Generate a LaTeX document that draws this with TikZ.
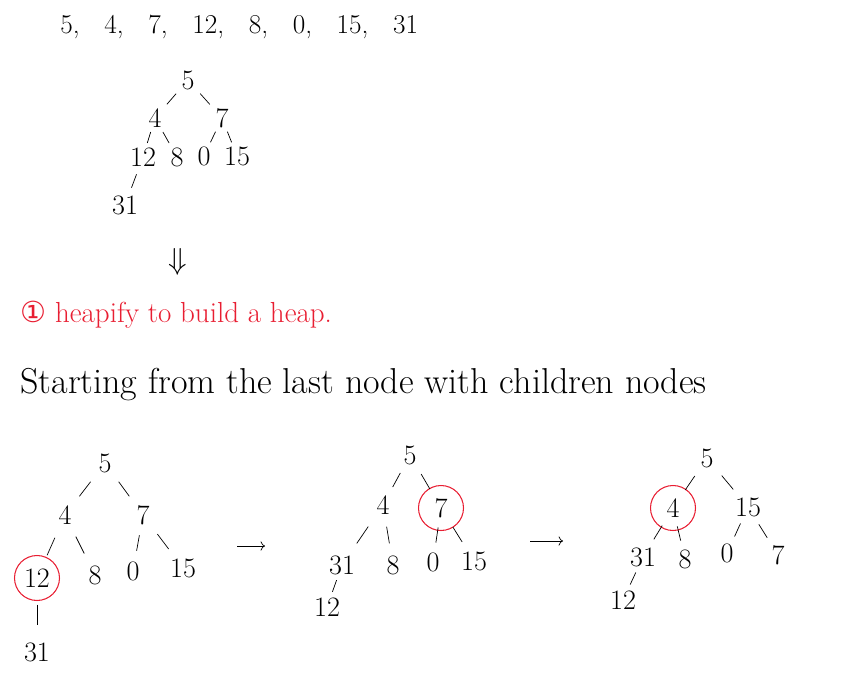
\documentclass[tikz,border=0pt]{standalone}
\usepackage{fontspec}
\newfontfamily\symfont{DejaVu Sans}
\usetikzlibrary{arrows.meta,calc}
\definecolor{inkred}{RGB}{232,30,50}
\newcommand{\link}[2]{\draw ($(#1)!.36!(#2)$) -- ($(#1)!.64!(#2)$);}
\begin{document}
\begin{tikzpicture}[x=0.02cm,y=-0.02cm,
    num/.style={inner sep=1pt,font=\fontsize{16}{18}\selectfont},
    hl/.style={draw=inkred,circle,line width=0.6pt,minimum size=0.9cm},
    txt/.style={anchor=west,inner sep=0pt,font=\fontsize{18}{20}\selectfont}]
    \useasboundingbox (0,0) rectangle (852,693);
    % the input array
    \node[txt,font=\fontsize{15.5}{18}\selectfont] (list) at (60,27) {5,~~~4,~~~7,~~~12,~~~8,~~~0,~~~15,~~~31};
    % tree of the array
    \node[num] (a5) at (188,80) {5};
    \node[num] (a4) at (155,118) {4};
    \node[num] (a7) at (222,118) {7};
    \node[num] (a12) at (143,157) {12};
    \node[num] (a8) at (177,157) {8};
    \node[num] (a0) at (204,156) {0};
    \node[num] (a15) at (237,156) {15};
    \node[num] (a31) at (125,205) {31};
    \link{a5}{a4}
    \link{a5}{a7}
    \link{a4}{a12}
    \link{a4}{a8}
    \link{a7}{a0}
    \link{a7}{a15}
    \link{a12}{a31}
    \node[num,font=\fontsize{18}{20}\selectfont] (down) at (178,262) {$\Downarrow$};
    % notes
    \node[txt,text=inkred,font=\fontsize{16.5}{20}\selectfont] (step1) at (20,315) {{\symfont ①} heapify to build a heap.};
    \node[txt,font=\fontsize{20.5}{24}\selectfont] (note) at (20,385) {Starting from the last node with children nodes};
    % first step
    \node[num] (b5) at (105,463) {5};
    \node[num] (b4) at (65,515) {4};
    \node[num] (b7) at (143,515) {7};
    \node[num,hl] (b12) at (37,578) {12};
    \node[num] (b8) at (95,575) {8};
    \node[num] (b0) at (133,571) {0};
    \node[num] (b15) at (183,568) {15};
    \node[num] (b31) at (37,652) {31};
    \link{b5}{b4}
    \link{b5}{b7}
    \link{b4}{b12}
    \link{b4}{b8}
    \link{b7}{b0}
    \link{b7}{b15}
    \link{b12}{b31}
    \coordinate (p1) at (237,546);
    \coordinate (q1) at (265,546);
    \draw[->] (p1) -- (q1);
    % second step
    \node[num] (c5) at (410,455) {5};
    \node[num] (c4) at (383,505) {4};
    \node[num,hl] (c7) at (441,508) {7};
    \node[num] (c31) at (342,565) {31};
    \node[num] (c8) at (393,565) {8};
    \node[num] (c0) at (433,562) {0};
    \node[num] (c15) at (474,561) {15};
    \node[num] (c12) at (327,607) {12};
    \link{c5}{c4}
    \link{c5}{c7}
    \link{c4}{c31}
    \link{c4}{c8}
    \link{c7}{c0}
    \link{c7}{c15}
    \link{c31}{c12}
    \coordinate (p2) at (530,541);
    \coordinate (q2) at (563,541);
    \draw[->] (p2) -- (q2);
    % third step
    \node[num] (d5) at (707,458) {5};
    \node[num,hl] (d4) at (673,508) {4};
    \node[num] (d15) at (748,507) {15};
    \node[num] (d31) at (643,557) {31};
    \node[num] (d8) at (685,559) {8};
    \node[num] (d0) at (727,553) {0};
    \node[num] (d7) at (778,555) {7};
    \node[num] (d12) at (623,600) {12};
    \link{d5}{d4}
    \link{d5}{d15}
    \link{d4}{d31}
    \link{d4}{d8}
    \link{d15}{d0}
    \link{d15}{d7}
    \link{d31}{d12}
\end{tikzpicture}
\end{document}
